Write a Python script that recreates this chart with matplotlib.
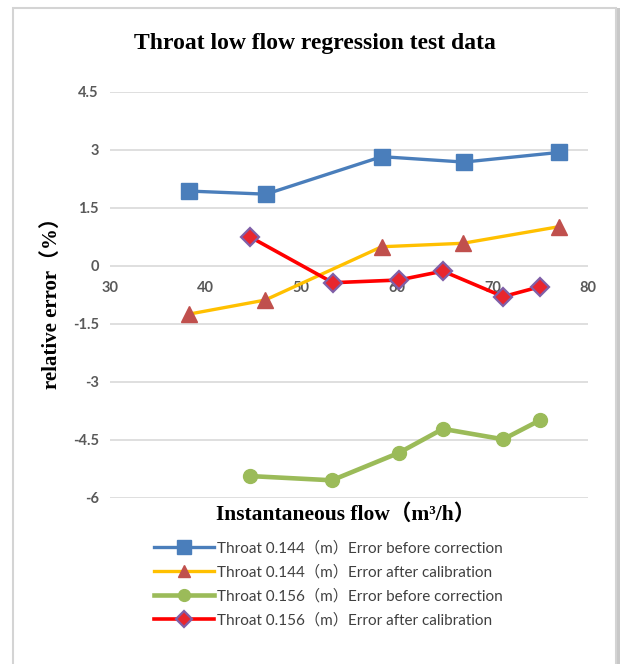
import matplotlib.pyplot as plt
from matplotlib.patches import Rectangle

# data
flow_144_before = [38.3, 46.3, 58.4, 67.0, 76.95]
err_144_before = [1.93, 1.85, 2.82, 2.68, 2.93]

flow_144_after = [38.3, 46.2, 58.4, 66.9, 76.95]
err_144_after = [-1.25, -0.89, 0.49, 0.58, 1.01]

flow_156_before = [44.6, 53.2, 60.2, 64.8, 71.1, 75.0]
err_156_before = [-5.44, -5.55, -4.84, -4.22, -4.49, -3.99]

flow_156_after = [44.6, 53.3, 60.2, 64.8, 71.1, 75.0]
err_156_after = [0.75, -0.44, -0.37, -0.14, -0.80, -0.54]

x_ticks = [30, 40, 50, 60, 70, 80]
y_ticks = [-6, -4.5, -3, -1.5, 0, 1.5, 3, 4.5]
y_tick_labels = ["-6", "-4.5", "-3", "-1.5", "0", "1.5", "3", "4.5"]

labels = [
    "Throat 0.144（m）Error before correction",
    "Throat 0.144（m）Error after calibration",
    "Throat 0.156（m）Error before correction",
    "Throat 0.156（m）Error after calibration",
]

W, H = 622, 664
fig = plt.figure(figsize=(W / 100, H / 100), dpi=100)

# frame around the chart
fig.patches.append(Rectangle((616 / W, 0), 4 / W, 1 - 8 / H, transform=fig.transFigure,
                             facecolor="#c8c8c8", edgecolor="none", zorder=-3))
fig.patches.append(Rectangle((13 / W, -0.01), 603 / W, 1.01 - 8 / H, transform=fig.transFigure,
                             facecolor="white", edgecolor="#d4d4d4", linewidth=1.5, zorder=-2))

ax = fig.add_axes([110 / W, 1 - 497.7 / H, 478.3 / W, 406 / H])
ax.set_facecolor("none")
ax.set_zorder(1)

ax.plot(flow_144_before, err_144_before, color="#4a7ebb", lw=2.4, marker="s",
        ms=12, mfc="#4a7ebb", mec="#4a7ebb", label=labels[0], zorder=4)
ax.plot(flow_144_after, err_144_after, color="#ffc000", lw=2.4, marker="^",
        ms=11, mfc="#c0504d", mec="#c0504d", label=labels[1], zorder=3)
ax.plot(flow_156_before, err_156_before, color="#9bbb59", lw=3.3, marker="o",
        ms=10, mfc="#9bbb59", mec="#9bbb59", label=labels[2], zorder=3)
ax.plot(flow_156_after, err_156_after, color="#ff0000", lw=2.6, marker="D",
        ms=9, mfc="#e8262e", mec="#7f5fa8", mew=1.6, label=labels[3], zorder=5)

ax.set_xlim(30, 80)
ax.set_ylim(-6, 4.5)
ax.set_xticks(x_ticks)
ax.set_yticks(y_ticks)
ax.set_yticklabels(y_tick_labels)
ax.grid(axis="y", color="#d9d9d9", lw=1.2)
ax.set_axisbelow(True)
for s in ax.spines.values():
    s.set_visible(False)
ax.spines["bottom"].set_position(("data", 0))
ax.tick_params(axis="both", length=0, labelsize=10.5, labelcolor="#595959")
ax.tick_params(axis="x", pad=11)
ax.tick_params(axis="y", pad=8)
for lab in ax.get_xticklabels() + ax.get_yticklabels():
    lab.set_fontweight("bold")
    lab.set_family("Lato")

serif = ["Liberation Serif", "Noto Sans CJK SC"]
fig.text(315 / W, 1 - 43 / H, "Throat low flow regression test data", ha="center", va="center",
         fontsize=17, fontweight="bold", family=serif)
fig.text(346 / W, 1 - 515 / H, "Instantaneous flow（m³/h）", ha="center", va="center",
         fontsize=15.5, fontweight="bold", family=serif)
fig.text(52 / W, 1 - 298 / H, "relative error（%）", ha="center", va="center", rotation=90,
         fontsize=15, fontweight="bold", family=serif)

leg = fig.legend(loc="upper left", bbox_to_anchor=(148 / W, 1 - 535 / H), frameon=False,
                 handlelength=3.9, handletextpad=0.2, labelspacing=0.62, borderaxespad=0,
                 markerscale=0.85,
                 prop={"family": ["Lato", "Noto Sans CJK SC"], "size": 11})
for t in leg.get_texts():
    t.set_color("#404040")

fig.savefig("out.png", dpi=100)
